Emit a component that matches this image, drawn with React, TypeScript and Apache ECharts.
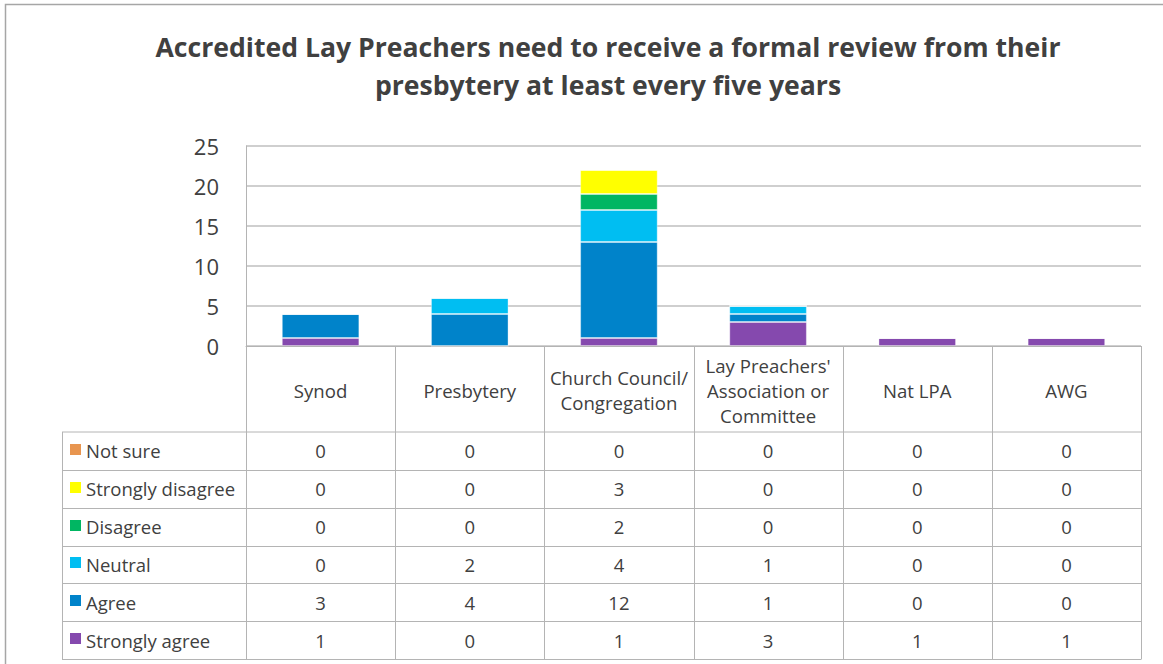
import React, { useEffect, useRef } from "react";
import * as echarts from "echarts";

const titleLines = [
  "Accredited Lay Preachers need to receive a formal review from their",
  "presbytery at least every five years",
];
const categories = [
  "Synod",
  "Presbytery",
  "Church Council/\nCongregation",
  "Lay Preachers'\nAssociation or\nCommittee",
  "Nat LPA",
  "AWG",
];
// stacking order: bottom to top
const seriesNames = ["Strongly agree", "Agree", "Neutral", "Disagree", "Strongly disagree", "Not sure"];
const stronglyAgree = [1, 0, 1, 3, 1, 1];
const agree = [3, 4, 12, 1, 0, 0];
const neutral = [0, 2, 4, 1, 0, 0];
const disagree = [0, 0, 2, 0, 0, 0];
const stronglyDisagree = [0, 0, 3, 0, 0, 0];
const notSure = [0, 0, 0, 0, 0, 0];
const seriesValues = [stronglyAgree, agree, neutral, disagree, stronglyDisagree, notSure];
const seriesColors = ["#8549AE", "#0083CA", "#00BEF2", "#00B662", "#FFFF00", "#E8954F"];
const yMin = 0;
const yMax = 25;
const yInterval = 5;

const FONT = "'Open Sans', Lato, sans-serif";
const TXT = "#404040";
const LINE = "#b4b4b4";

export default function App() {
  const ref = useRef<HTMLDivElement>(null);
  useEffect(() => {
    if (!ref.current) return;
    const chart = echarts.init(ref.current, null, { renderer: "svg" });

    const gridLeft = 246;
    const gridTop = 146;
    const gridWidth = 895;
    const gridHeight = 200;
    const gridRight = gridLeft + gridWidth;
    const axisY = gridTop + gridHeight;
    const headerBottom = 432;
    const tableBottom = 659;
    const legendLeft = 62;
    const nCat = categories.length;
    const colW = gridWidth / nCat;
    const rowOrder = seriesNames.map((_, i) => seriesNames.length - 1 - i); // top row: last series
    const rowH = (tableBottom - headerBottom) / rowOrder.length;

    const graphics: any[] = [];
    // outer border
    graphics.push({
      type: "rect",
      shape: { x: 5.5, y: 4.5, width: 1200, height: 700 },
      style: { fill: "none", stroke: "#a6a6a6", lineWidth: 1.5 },
      silent: true,
    });
    // title
    graphics.push({
      type: "text",
      x: 608,
      y: 66,
      style: {
        text: titleLines.join("\n"),
        font: `bold 26.6px ${FONT}`,
        fill: TXT,
        align: "center",
        verticalAlign: "middle",
        lineHeight: 38,
      },
    });
    // table horizontal lines
    graphics.push({
      type: "line",
      shape: { x1: legendLeft, y1: headerBottom, x2: gridRight, y2: headerBottom },
      style: { stroke: LINE, lineWidth: 1 },
    });
    for (let r = 1; r <= rowOrder.length; r++) {
      const y = Math.round(headerBottom + r * rowH) + 0.5;
      graphics.push({
        type: "line",
        shape: { x1: legendLeft, y1: y, x2: gridRight, y2: y },
        style: { stroke: LINE, lineWidth: 1 },
      });
    }
    // vertical lines
    graphics.push({
      type: "line",
      shape: { x1: legendLeft + 0.5, y1: headerBottom, x2: legendLeft + 0.5, y2: tableBottom + 0.5 },
      style: { stroke: LINE, lineWidth: 1 },
    });
    for (let c = 0; c <= nCat; c++) {
      const x = Math.round(gridLeft + c * colW) + 0.5;
      graphics.push({
        type: "line",
        shape: { x1: x, y1: axisY, x2: x, y2: tableBottom + 0.5 },
        style: { stroke: LINE, lineWidth: 1 },
      });
    }
    // headers
    categories.forEach((cat, c) => {
      graphics.push({
        type: "text",
        x: gridLeft + (c + 0.5) * colW,
        y: (axisY + headerBottom) / 2 + 1,
        style: {
          text: cat,
          font: `18.6px ${FONT}`,
          fill: TXT,
          align: "center",
          verticalAlign: "middle",
          lineHeight: 25,
        },
      });
    });
    // rows
    rowOrder.forEach((si, r) => {
      const cy = headerBottom + (r + 0.5) * rowH;
      graphics.push({
        type: "rect",
        shape: { x: 70, y: Math.round(cy - 7), width: 11, height: 11 },
        style: { fill: seriesColors[si] },
      });
      graphics.push({
        type: "text",
        x: 86,
        y: cy,
        style: {
          text: seriesNames[si],
          font: `18.5px ${FONT}`,
          fill: TXT,
          align: "left",
          verticalAlign: "middle",
        },
      });
      seriesValues[si].forEach((v, c) => {
        graphics.push({
          type: "text",
          x: gridLeft + (c + 0.5) * colW,
          y: cy,
          style: {
            text: String(v),
            font: `18.5px ${FONT}`,
            fill: TXT,
            align: "center",
            verticalAlign: "middle",
          },
        });
      });
    });

    chart.setOption({
      animation: false,
      grid: { left: gridLeft, top: gridTop, width: gridWidth, height: gridHeight, containLabel: false },
      xAxis: {
        type: "category",
        data: categories,
        axisLine: { show: true, lineStyle: { color: LINE, width: 1 } },
        axisTick: { show: false },
        axisLabel: { show: false },
        splitLine: { show: false },
      },
      yAxis: {
        type: "value",
        min: yMin,
        max: yMax,
        interval: yInterval,
        axisLine: { show: true, lineStyle: { color: LINE, width: 1 } },
        axisTick: { show: false },
        axisLabel: { color: TXT, fontSize: 22, fontFamily: FONT, margin: 27 },
        splitLine: { show: true, lineStyle: { color: "#bfbfbf", width: 1.5 } },
      },
      series: seriesNames.map((name, i) => ({
        name,
        type: "bar",
        stack: "total",
        data: seriesValues[i],
        barWidth: "52%",
        itemStyle: { color: seriesColors[i], borderColor: "rgba(255,255,255,0.35)", borderWidth: 1 },
      })),
      graphic: graphics,
    });
    return () => chart.dispose();
  }, []);
  return (
    <div
      ref={ref}
      style={{ position: "fixed", left: 0, top: 0, width: 1163, height: 664, background: "#fff" }}
    />
  );
}
